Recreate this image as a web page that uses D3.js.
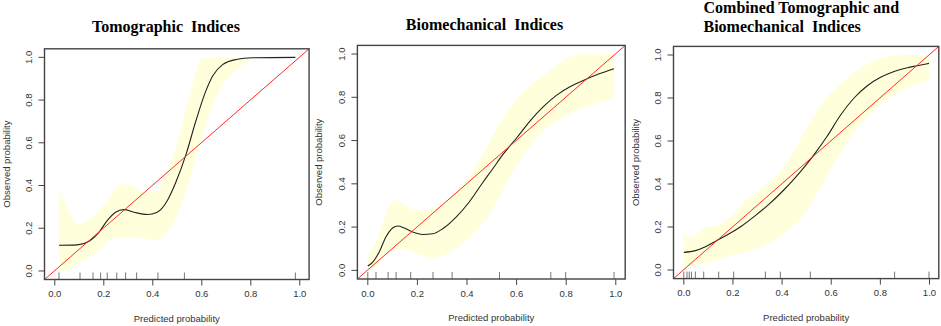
<!DOCTYPE html>
<html>
<head>
<meta charset="utf-8">
<script src="https://cdn.jsdelivr.net/npm/d3@7"></script>
<style>
  body { margin: 0; background: #fff; }
  svg { display: block; }
  text { font-family: "Liberation Sans", Arial, sans-serif; fill: #333; }
  .title { font-family: "Liberation Serif", "Times New Roman", serif; font-weight: bold; white-space: pre; fill: #000; }
</style>
</head>
<body>
<svg id="drawing_region"></svg>
<script>
// axis ticks
const xTicks = [0, 0.2, 0.4, 0.6, 0.8, 1.0];
const yTicks = [0, 0.2, 0.4, 0.6, 0.8, 1.0];

// --- Tomographic Indices ---
const tomoCurveX = [0.019, 0.094, 0.142, 0.182, 0.216, 0.25, 0.284, 0.325, 0.38, 0.42, 0.461, 0.496, 0.538, 0.578, 0.619, 0.647, 0.687, 0.742, 0.81, 0.984];
const tomoCurveY = [0.12, 0.122, 0.139, 0.181, 0.236, 0.275, 0.287, 0.275, 0.264, 0.275, 0.329, 0.415, 0.547, 0.703, 0.844, 0.914, 0.966, 0.99, 0.998, 1.0];
const tomoBandX  = [0.019, 0.04, 0.07, 0.1, 0.135, 0.175, 0.215, 0.25, 0.28, 0.325, 0.37, 0.41, 0.45, 0.48, 0.5, 0.54, 0.575, 0.6, 0.62, 0.66, 0.7, 0.74, 0.78, 0.82, 0.86, 0.984];
const tomoBandHi = [0.384, 0.329, 0.255, 0.22, 0.235, 0.275, 0.329, 0.384, 0.407, 0.392, 0.368, 0.37, 0.44, 0.525, 0.59, 0.77, 0.915, 0.997, 1, 1, 1, 1, 1, 1, 1, 1];
const tomoBandLo = [0, 0, 0.01, 0.04, 0.056, 0.09, 0.135, 0.156, 0.158, 0.158, 0.152, 0.143, 0.167, 0.215, 0.26, 0.38, 0.52, 0.615, 0.69, 0.813, 0.89, 0.935, 0.975, 0.996, 1, 1];
const tomoRug    = [0.019, 0.105, 0.158, 0.189, 0.216, 0.255, 0.291, 0.336, 0.423, 0.531, 0.984];

// --- Biomechanical Indices ---
const bioCurveX = [0.002, 0.022, 0.048, 0.075, 0.102, 0.123, 0.149, 0.183, 0.223, 0.264, 0.304, 0.358, 0.411, 0.465, 0.503, 0.548, 0.602, 0.656, 0.71, 0.764, 0.817, 0.871, 0.925, 0.995];
const bioCurveY = [0.02, 0.038, 0.085, 0.154, 0.196, 0.205, 0.196, 0.177, 0.166, 0.169, 0.192, 0.246, 0.316, 0.405, 0.465, 0.537, 0.612, 0.69, 0.757, 0.81, 0.849, 0.878, 0.904, 0.932];
const bioBandX  = [0.002, 0.035, 0.069, 0.096, 0.116, 0.143, 0.176, 0.217, 0.264, 0.317, 0.371, 0.425, 0.465, 0.503, 0.548, 0.602, 0.656, 0.71, 0.764, 0.817, 0.851, 0.898, 0.995];
const bioBandHi = [0.069, 0.131, 0.239, 0.316, 0.324, 0.308, 0.285, 0.277, 0.285, 0.324, 0.377, 0.46, 0.535, 0.615, 0.705, 0.79, 0.855, 0.901, 0.948, 0.986, 1, 1, 1];
const bioBandLo = [0, 0.02, 0.072, 0.09, 0.098, 0.1, 0.09, 0.07, 0.061, 0.075, 0.112, 0.165, 0.215, 0.28, 0.375, 0.485, 0.575, 0.645, 0.693, 0.724, 0.742, 0.763, 0.797];
const bioRug    = [0.002, 0.035, 0.084, 0.116, 0.175, 0.265, 0.342, 0.533, 0.74, 0.8, 0.995];

// --- Combined Tomographic and Biomechanical Indices ---
const combCurveX = [0.002, 0.049, 0.09, 0.13, 0.185, 0.239, 0.293, 0.348, 0.402, 0.456, 0.499, 0.539, 0.586, 0.641, 0.695, 0.749, 0.803, 0.858, 0.912, 0.952, 1.0];
const combCurveY = [0.082, 0.09, 0.108, 0.133, 0.167, 0.206, 0.253, 0.305, 0.364, 0.43, 0.488, 0.547, 0.623, 0.722, 0.8, 0.857, 0.896, 0.923, 0.941, 0.95, 0.961];
const combBandX  = [0.002, 0.015, 0.029, 0.063, 0.09, 0.13, 0.171, 0.212, 0.252, 0.307, 0.361, 0.415, 0.456, 0.499, 0.532, 0.586, 0.641, 0.695, 0.749, 0.803, 0.844, 0.9, 1.0];
const combBandHi = [0.199, 0.152, 0.152, 0.175, 0.199, 0.206, 0.229, 0.268, 0.322, 0.369, 0.42, 0.49, 0.565, 0.655, 0.72, 0.805, 0.868, 0.918, 0.958, 0.986, 0.995, 1, 1];
const combBandLo = [0, 0.01, 0.018, 0.026, 0.03, 0.043, 0.062, 0.072, 0.082, 0.105, 0.135, 0.175, 0.215, 0.27, 0.33, 0.44, 0.55, 0.64, 0.712, 0.773, 0.808, 0.84, 0.884];
const combRug    = [0.002, 0.015, 0.024, 0.033, 0.049, 0.083, 0.144, 0.205, 0.334, 0.395, 0.517, 0.86, 1.0];

const svg = d3.select('#drawing_region')
    .attr('width', 941)
    .attr('height', 326);

class CalibrationPlot {
    constructor(config, data) {
        this.config = config;
        this.data = data;
        this.init();
    }
    init() {
        let self = this;
        const b = self.config.box;
        self.g = svg.append('g');

        self.xscale = d3.scaleLinear()
            .domain([-0.04, 1.04])
            .range([b.left, b.right]);
        self.yscale = d3.scaleLinear()
            .domain([-0.04, 1.04])
            .range([b.bottom, b.top]);

        self.clipId = 'clip' + self.config.id;
        self.g.append('clipPath')
            .attr('id', self.clipId)
            .append('rect')
            .attr('x', b.left).attr('y', b.top)
            .attr('width', b.right - b.left)
            .attr('height', b.bottom - b.top);

        self.area = d3.area()
            .x(d => self.xscale(d.x))
            .y0(d => self.yscale(d.lo))
            .y1(d => self.yscale(d.hi))
            .curve(d3.curveMonotoneX);

        self.line = d3.line()
            .x(d => self.xscale(d.x))
            .y(d => self.yscale(d.y))
            .curve(d3.curveMonotoneX);
    }
    render() {
        let self = this;
        const b = self.config.box;
        const plot = self.g.append('g').attr('clip-path', `url(#${self.clipId})`);

        const band = self.data.bandX.map((x, i) => ({x: x, lo: self.data.bandLo[i], hi: self.data.bandHi[i]}));
        plot.append('path')
            .attr('d', self.area(band))
            .attr('fill', '#ffffdc')
            .attr('stroke', 'none');

        const curve = self.data.curveX.map((x, i) => ({x: x, y: self.data.curveY[i]}));
        plot.append('path')
            .attr('d', self.line(curve))
            .attr('fill', 'none')
            .attr('stroke', '#222')
            .attr('stroke-width', 1.1);

        // ideal line
        plot.append('line')
            .attr('x1', self.xscale(-0.04)).attr('y1', self.yscale(-0.04))
            .attr('x2', self.xscale(1.04)).attr('y2', self.yscale(1.04))
            .attr('stroke', '#ff2a2a')
            .attr('stroke-width', 1);

        // rug
        plot.selectAll('.rug')
            .data(self.data.rug)
            .enter()
            .append('line')
            .attr('x1', d => self.xscale(d)).attr('x2', d => self.xscale(d))
            .attr('y1', b.bottom).attr('y2', b.bottom - 7)
            .attr('stroke', '#777')
            .attr('stroke-width', 1);

        // axes
        const xaxis = d3.axisBottom(self.xscale)
            .tickValues(xTicks)
            .tickFormat(d3.format('.1f'))
            .tickSize(6)
            .tickPadding(5);
        const xg = self.g.append('g')
            .attr('transform', `translate(0, ${b.bottom})`)
            .call(xaxis);
        xg.select('.domain').remove();
        xg.selectAll('line').attr('stroke', '#444');
        xg.selectAll('text').attr('font-size', '9.5px').attr('font-family', null).attr('fill', '#333');

        const yaxis = d3.axisLeft(self.yscale)
            .tickValues(yTicks)
            .tickFormat(d3.format('.1f'))
            .tickSize(6)
            .tickPadding(5);
        const yg = self.g.append('g')
            .attr('transform', `translate(${b.left}, 0)`)
            .call(yaxis);
        yg.select('.domain').remove();
        yg.selectAll('line').attr('stroke', '#444');
        yg.selectAll('text')
            .attr('font-size', '9.5px').attr('font-family', null).attr('fill', '#333')
            .attr('x', null).attr('dy', null)
            .attr('text-anchor', 'middle')
            .attr('transform', d => `translate(${-12.5}, ${self.yscale(d)}) rotate(-90)`)
            .attr('y', 0);
        yg.selectAll('.tick').attr('transform', null);
        yg.selectAll('.tick line')
            .attr('y1', d => self.yscale(d)).attr('y2', d => self.yscale(d));

        // frame
        self.g.append('rect')
            .attr('x', b.left).attr('y', b.top)
            .attr('width', b.right - b.left)
            .attr('height', b.bottom - b.top)
            .attr('fill', 'none')
            .attr('stroke', '#444')
            .attr('stroke-width', 1.4);

        // axis titles
        self.g.append('text')
            .text('Predicted probability')
            .attr('x', (b.left + b.right) / 2)
            .attr('y', b.bottom + 42)
            .attr('font-size', '9.5px')
            .attr('text-anchor', 'middle');
        self.g.append('text')
            .text('Observed probability')
            .attr('transform', `translate(${b.left - 35}, ${(b.top + b.bottom) / 2}) rotate(-90)`)
            .attr('font-size', '9.5px')
            .attr('text-anchor', 'middle');

        // title
        self.config.title.forEach((t, i) => {
            self.g.append('text')
                .attr('class', 'title')
                .text(t)
                .attr('x', self.config.titleX)
                .attr('y', self.config.titleY[i])
                .attr('font-size', '16px')
                .attr('text-anchor', self.config.titleAnchor);
        });
    }
}

const panels = [
    {
        config: {id: 1, box: {left: 44.5, right: 309.1, top: 48.8, bottom: 279.5},
                 title: ['Tomographic  Indices'], titleX: 166, titleY: [32], titleAnchor: 'middle'},
        data: {curveX: tomoCurveX, curveY: tomoCurveY, bandX: tomoBandX, bandHi: tomoBandHi, bandLo: tomoBandLo, rug: tomoRug}
    },
    {
        config: {id: 2, box: {left: 357.4, right: 625.2, top: 45.4, bottom: 279},
                 title: ['Biomechanical  Indices'], titleX: 484.5, titleY: [29.5], titleAnchor: 'middle'},
        data: {curveX: bioCurveX, curveY: bioCurveY, bandX: bioBandX, bandHi: bioBandHi, bandLo: bioBandLo, rug: bioRug}
    },
    {
        config: {id: 3, box: {left: 673.5, right: 938.8, top: 46.4, bottom: 278.6},
                 title: ['Combined Tomographic and', 'Biomechanical  Indices'], titleX: 703.5, titleY: [12.7, 31.7], titleAnchor: 'start'},
        data: {curveX: combCurveX, curveY: combCurveY, bandX: combBandX, bandHi: combBandHi, bandLo: combBandLo, rug: combRug}
    }
];

panels.forEach(p => {
    const plot = new CalibrationPlot(p.config, p.data);
    plot.render();
});
</script>
</body>
</html>
